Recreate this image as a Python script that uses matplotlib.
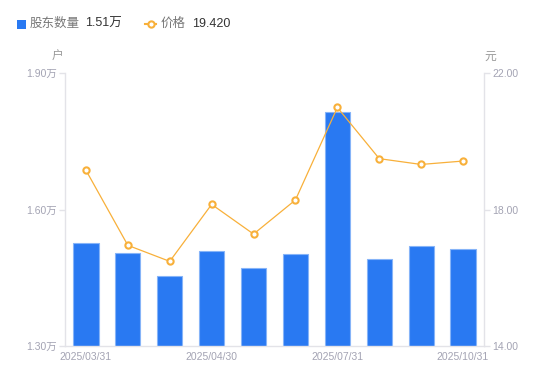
import matplotlib
matplotlib.use("Agg")
import matplotlib.pyplot as plt
from matplotlib.lines import Line2D

plt.rcParams['font.family'] = ['Liberation Sans', 'Noto Sans CJK SC', 'DejaVu Sans']

dates = ["2025/03/31", "2025/04/10", "2025/04/20", "2025/04/30", "2025/05/31",
         "2025/06/30", "2025/07/31", "2025/08/31", "2025/09/30", "2025/10/31"]
holders = [1.526, 1.504, 1.453, 1.509, 1.471, 1.502, 1.815, 1.491, 1.519, 1.513]
prices = [19.15, 16.95, 16.48, 18.15, 17.28, 18.28, 20.99, 19.49, 19.32, 19.42]
shown_labels = [0, 3, 6, 9]
left_ticks = [1.30, 1.60, 1.90]
right_ticks = [14.0, 18.0, 22.0]

bar_color = '#2979F2'
line_color = '#F8B03A'
tick_color = '#A3A3B3'
axis_color = '#E3E3E8'

fig = plt.figure(figsize=(5.5, 3.81), dpi=100)
ax = fig.add_axes([65/550, 1-346/381, (484-65)/550, (346-73)/381])
ax2 = ax.twinx()

x = list(range(len(dates)))
ax.bar(x, holders, width=0.6, color=bar_color, edgecolor='#86B4F8', linewidth=0.8, zorder=2)
ax.set_xlim(-0.5, len(dates)-0.5)
ax.set_ylim(left_ticks[0], left_ticks[-1])
ax.set_yticks(left_ticks)
ax.set_yticklabels([f"{v:.2f}万" for v in left_ticks])
ax.set_xticks([x[i] for i in shown_labels])
ax.set_xticklabels([dates[i] for i in shown_labels])

ax2.plot(x, prices, color=line_color, linewidth=0.9, marker='o', markersize=4.5,
         markerfacecolor='white', markeredgecolor=line_color, markeredgewidth=1.5, zorder=3)
ax2.set_ylim(right_ticks[0], right_ticks[-1])
ax2.set_yticks(right_ticks)
ax2.set_yticklabels([f"{v:.2f}" for v in right_ticks])

for a in (ax, ax2):
    for s in a.spines.values():
        s.set_color(axis_color)
        s.set_linewidth(1.0)
    a.spines['top'].set_visible(False)
ax.spines['right'].set_visible(False)
ax2.spines['left'].set_visible(False)
ax2.spines['bottom'].set_visible(False)

ax.tick_params(axis='y', colors=axis_color, labelcolor=tick_color, labelsize=7.5, length=4, width=1, pad=2)
ax2.tick_params(axis='y', colors=axis_color, labelcolor=tick_color, labelsize=7.5, length=4, width=1, pad=2)
ax.tick_params(axis='x', length=0, labelcolor=tick_color, labelsize=7.5, pad=4)

fig.text(58/550, 1-57/381, "户", ha='center', va='center', fontsize=8.5, color='#999999')
fig.text(490/550, 1-57/381, "元", ha='center', va='center', fontsize=8.5, color='#999999')

# legend
ly = 1-24/381
fig.patches.append(plt.Rectangle((17/550, 1-29/381), 9/550, 9/381, transform=fig.transFigure,
                                 facecolor=bar_color, edgecolor='none'))
fig.text(30/550, ly, "股东数量", ha='left', va='center', fontsize=9, color='#777777')
fig.text(85/550, ly, f"{holders[-1]:.2f}万", ha='left', va='center', fontsize=9, color='#333333')
fig.lines.append(Line2D([145/550, 156/550], [ly, ly], transform=fig.transFigure, color=line_color,
                        linewidth=1.5))
fig.lines.append(Line2D([150.5/550], [ly], transform=fig.transFigure, color=line_color,
                        marker='o', markersize=4.5, markerfacecolor='white', markeredgewidth=1.5))
fig.text(161/550, ly, "价格", ha='left', va='center', fontsize=9, color='#777777')
fig.text(192/550, ly, f"{prices[-1]:.3f}", ha='left', va='center', fontsize=9, color='#333333')

fig.savefig("out.png", dpi=100)
